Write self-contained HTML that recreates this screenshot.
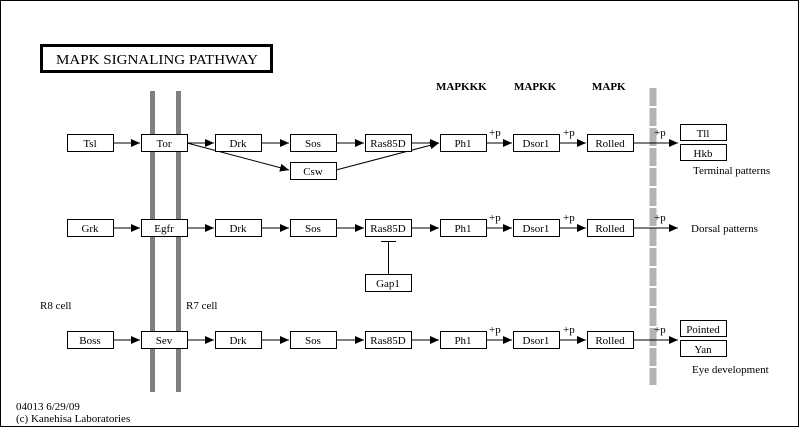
<!DOCTYPE html>
<html><head><meta charset="utf-8"><style>
html,body{margin:0;padding:0;background:#fff}
svg{display:block}
text{font-family:"Liberation Serif",serif;font-size:11px;fill:#000}
.b{fill:#fff;stroke:#000;stroke-width:1}
.l{stroke:#000;stroke-width:1;fill:none}
</style></head><body>
<svg width="800" height="428" viewBox="0 0 800 428" xmlns="http://www.w3.org/2000/svg">
<defs><marker id="a" markerWidth="10" markerHeight="10" refX="9" refY="4" orient="auto" markerUnits="userSpaceOnUse"><path d="M0,0 L9,4 L0,8 z" fill="#000"/></marker></defs>
<rect x="0.5" y="0.5" width="798" height="426" fill="#fff" stroke="#000"/>
<rect x="41.5" y="45.5" width="230" height="26" fill="#fff" stroke="#000" stroke-width="3"/>
<text x="56" y="64" textLength="202" lengthAdjust="spacingAndGlyphs" style="font-size:14px">MAPK  SIGNALING  PATHWAY</text>
<rect x="150" y="91" width="5" height="301" fill="#808080"/>
<rect x="176" y="91" width="5" height="301" fill="#808080"/>
<line x1="653" y1="88" x2="653" y2="385" stroke="#b4b4b4" stroke-width="7" stroke-dasharray="18,2"/>
<text x="436" y="90" style="font-weight:bold">MAPKKK</text>
<text x="514" y="90" style="font-weight:bold">MAPKK</text>
<text x="592" y="90" style="font-weight:bold">MAPK</text>
<g class="l" marker-end="url(#a)">
<line x1="113" y1="143" x2="140" y2="143"/>
<line x1="187" y1="143" x2="214" y2="143"/>
<line x1="261" y1="143" x2="289" y2="143"/>
<line x1="336" y1="143" x2="364" y2="143"/>
<line x1="411" y1="143" x2="439" y2="143"/>
<line x1="486" y1="143" x2="512" y2="143"/>
<line x1="559" y1="143" x2="586" y2="143"/>
<line x1="633" y1="143" x2="678" y2="143"/>
<line x1="187" y1="143" x2="289" y2="170"/>
<line x1="336" y1="170" x2="439" y2="143"/>
<line x1="113" y1="228" x2="140" y2="228"/>
<line x1="187" y1="228" x2="214" y2="228"/>
<line x1="261" y1="228" x2="289" y2="228"/>
<line x1="336" y1="228" x2="364" y2="228"/>
<line x1="411" y1="228" x2="439" y2="228"/>
<line x1="486" y1="228" x2="512" y2="228"/>
<line x1="559" y1="228" x2="586" y2="228"/>
<line x1="633" y1="228" x2="678" y2="228"/>
<line x1="113" y1="340" x2="140" y2="340"/>
<line x1="187" y1="340" x2="214" y2="340"/>
<line x1="261" y1="340" x2="289" y2="340"/>
<line x1="336" y1="340" x2="364" y2="340"/>
<line x1="411" y1="340" x2="439" y2="340"/>
<line x1="486" y1="340" x2="512" y2="340"/>
<line x1="559" y1="340" x2="586" y2="340"/>
<line x1="633" y1="340" x2="678" y2="340"/>
</g>
<line class="l" x1="388.5" y1="241" x2="388.5" y2="274"/>
<line class="l" x1="381" y1="241.5" x2="396" y2="241.5"/>
<g>
<rect class="b" x="67.5" y="134.5" width="46" height="17"/><text x="90" y="147" text-anchor="middle">Tsl</text>
<rect class="b" x="141.5" y="134.5" width="46" height="17"/><text x="164" y="147" text-anchor="middle">Tor</text>
<rect class="b" x="215.5" y="134.5" width="46" height="17"/><text x="238" y="147" text-anchor="middle">Drk</text>
<rect class="b" x="290.5" y="134.5" width="46" height="17"/><text x="313" y="147" text-anchor="middle">Sos</text>
<rect class="b" x="365.5" y="134.5" width="46" height="17"/><text x="388" y="147" text-anchor="middle">Ras85D</text>
<rect class="b" x="440.5" y="134.5" width="46" height="17"/><text x="463" y="147" text-anchor="middle">Ph1</text>
<rect class="b" x="513.5" y="134.5" width="46" height="17"/><text x="536" y="147" text-anchor="middle">Dsor1</text>
<rect class="b" x="587.5" y="134.5" width="46" height="17"/><text x="610" y="147" text-anchor="middle">Rolled</text>
<rect class="b" x="680.5" y="124.5" width="46" height="16"/><text x="703" y="137" text-anchor="middle">Tll</text>
<rect class="b" x="680.5" y="144.5" width="46" height="16"/><text x="703" y="157" text-anchor="middle">Hkb</text>
<rect class="b" x="290.5" y="162.5" width="46" height="17"/><text x="313" y="175" text-anchor="middle">Csw</text>
<rect class="b" x="67.5" y="219.5" width="46" height="17"/><text x="90" y="232" text-anchor="middle">Grk</text>
<rect class="b" x="141.5" y="219.5" width="46" height="17"/><text x="164" y="232" text-anchor="middle">Egfr</text>
<rect class="b" x="215.5" y="219.5" width="46" height="17"/><text x="238" y="232" text-anchor="middle">Drk</text>
<rect class="b" x="290.5" y="219.5" width="46" height="17"/><text x="313" y="232" text-anchor="middle">Sos</text>
<rect class="b" x="365.5" y="219.5" width="46" height="17"/><text x="388" y="232" text-anchor="middle">Ras85D</text>
<rect class="b" x="440.5" y="219.5" width="46" height="17"/><text x="463" y="232" text-anchor="middle">Ph1</text>
<rect class="b" x="513.5" y="219.5" width="46" height="17"/><text x="536" y="232" text-anchor="middle">Dsor1</text>
<rect class="b" x="587.5" y="219.5" width="46" height="17"/><text x="610" y="232" text-anchor="middle">Rolled</text>
<rect class="b" x="365.5" y="274.5" width="46" height="17"/><text x="388" y="287" text-anchor="middle">Gap1</text>
<rect class="b" x="67.5" y="331.5" width="46" height="17"/><text x="90" y="344" text-anchor="middle">Boss</text>
<rect class="b" x="141.5" y="331.5" width="46" height="17"/><text x="164" y="344" text-anchor="middle">Sev</text>
<rect class="b" x="215.5" y="331.5" width="46" height="17"/><text x="238" y="344" text-anchor="middle">Drk</text>
<rect class="b" x="290.5" y="331.5" width="46" height="17"/><text x="313" y="344" text-anchor="middle">Sos</text>
<rect class="b" x="365.5" y="331.5" width="46" height="17"/><text x="388" y="344" text-anchor="middle">Ras85D</text>
<rect class="b" x="440.5" y="331.5" width="46" height="17"/><text x="463" y="344" text-anchor="middle">Ph1</text>
<rect class="b" x="513.5" y="331.5" width="46" height="17"/><text x="536" y="344" text-anchor="middle">Dsor1</text>
<rect class="b" x="587.5" y="331.5" width="46" height="17"/><text x="610" y="344" text-anchor="middle">Rolled</text>
<rect class="b" x="680.5" y="320.5" width="46" height="16"/><text x="703" y="333" text-anchor="middle">Pointed</text>
<rect class="b" x="680.5" y="340.5" width="46" height="16"/><text x="703" y="353" text-anchor="middle">Yan</text>
</g>
<g>
<text x="489" y="136">+p</text><text x="563" y="136">+p</text><text x="654" y="136">+p</text>
<text x="489" y="221">+p</text><text x="563" y="221">+p</text><text x="654" y="221">+p</text>
<text x="489" y="333">+p</text><text x="563" y="333">+p</text><text x="654" y="333">+p</text>
</g>
<text x="693" y="174">Terminal patterns</text>
<text x="691" y="232">Dorsal patterns</text>
<text x="692" y="373">Eye development</text>
<text x="40" y="309">R8 cell</text>
<text x="186" y="309">R7 cell</text>
<text x="16" y="410">04013 6/29/09</text>
<text x="16" y="422">(c) Kanehisa Laboratories</text>
</svg>
</body></html>
